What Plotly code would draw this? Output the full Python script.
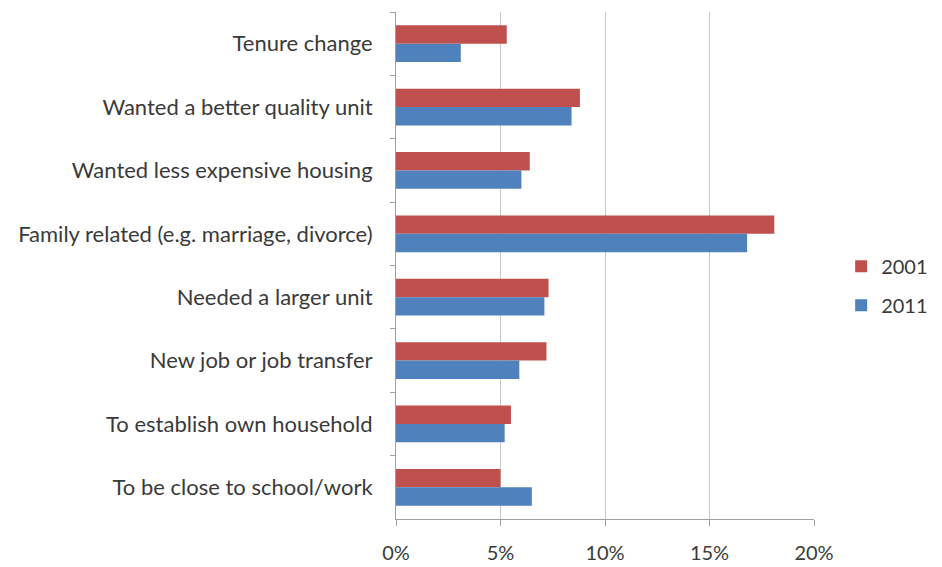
import plotly.graph_objects as go

reasons = [
    "Tenure change",
    "Wanted a better quality unit",
    "Wanted less expensive housing",
    "Family related (e.g. marriage, divorce)",
    "Needed a larger unit",
    "New job or job transfer",
    "To establish own household",
    "To be close to school/work",
]
share_2001 = [5.3, 8.8, 6.4, 18.1, 7.3, 7.2, 5.5, 5.0]
share_2011 = [3.1, 8.4, 6.0, 16.8, 7.1, 5.9, 5.2, 6.5]
x_ticks = [0, 5, 10, 15, 20]
x_tick_text = ["0%", "5%", "10%", "15%", "20%"]

font_family = "Lato, 'Open Sans', sans-serif"
text_color = "#3a3a3a"

fig = go.Figure()
fig.add_trace(go.Bar(
    name="2001", y=reasons, x=share_2001, orientation="h", legendgroup="a",
    marker=dict(color="#C0504D", line=dict(width=0)),
))
fig.add_trace(go.Bar(
    name="2011", y=reasons, x=share_2011, orientation="h", legendgroup="b",
    marker=dict(color="#4F81BD", line=dict(width=0)),
))

fig.update_layout(
    width=942, height=567,
    margin=dict(l=396, r=128, t=12, b=48, autoexpand=False),
    paper_bgcolor="white", plot_bgcolor="white",
    barmode="group", bargap=0.42, bargroupgap=0.0,
    font=dict(family=font_family, size=22, color=text_color),
    showlegend=True,
    legend=dict(
        x=1.065, y=0.46, xanchor="left", yanchor="middle",
        traceorder="grouped", tracegroupgap=10,
        font=dict(size=20, color=text_color),
        itemwidth=30, bgcolor="rgba(0,0,0,0)",
    ),
    xaxis=dict(
        range=[0, 20], tickvals=x_ticks, ticktext=x_tick_text,
        showgrid=True, gridcolor="#c8c8c8", gridwidth=1,
        zeroline=False, showline=True, linecolor="#a0a0a0", linewidth=1,
        ticks="outside", ticklen=6, tickcolor="#a0a0a0",
        tickfont=dict(size=20, color=text_color), ticklabelstandoff=10,
    ),
    yaxis=dict(
        autorange="reversed", type="category",
        showgrid=False, zeroline=False,
        showline=True, linecolor="#a0a0a0", linewidth=1,
        ticks="outside", tickson="boundaries", ticklen=5, tickcolor="#a0a0a0",
        tickfont=dict(size=22, color=text_color), ticklabelstandoff=18,
    ),
)

fig.write_html("out.html")
